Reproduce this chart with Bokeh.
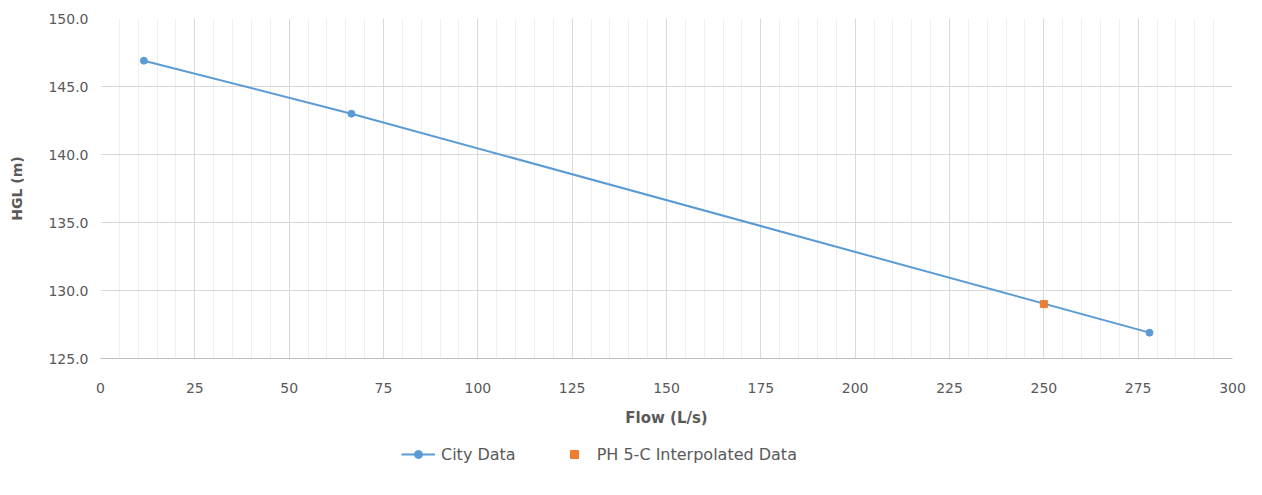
from bokeh.plotting import figure
from bokeh.layouts import column
from bokeh.models import (Range1d, SingleIntervalTicker, NumeralTickFormatter,
                          Legend, LegendItem)
from bokeh.embed import file_html
from bokeh.resources import INLINE

# Hydraulic grade line vs. flow
city_flow = [11.5, 66.5, 278.0]
city_hgl = [146.9, 143.0, 126.9]
interp_flow = [250.0]
interp_hgl = [129.0]

series_names = ["City Data", "PH 5-C Interpolated Data"]

BLUE = "#5B9BD5"
ORANGE = "#ED7D31"
TEXT = "#595959"
FONT = "DejaVu Sans"

p = figure(width=1262, height=435, output_backend="svg", toolbar_location=None,
           x_range=Range1d(0, 300), y_range=Range1d(125, 150),
           min_border_left=100, min_border_right=30,
           min_border_top=18, min_border_bottom=77)
p.outline_line_color = None
p.background_fill_color = "white"
p.border_fill_color = "white"

# axes
p.xaxis.ticker = SingleIntervalTicker(interval=25, num_minor_ticks=5)
p.yaxis.ticker = SingleIntervalTicker(interval=5, num_minor_ticks=0)
p.yaxis.formatter = NumeralTickFormatter(format="0.0")
for ax in (p.xaxis, p.yaxis):
    ax.major_tick_line_color = None
    ax.minor_tick_line_color = None
    ax.major_tick_out = 0
    ax.minor_tick_out = 0
    ax.major_label_text_font = FONT
    ax.major_label_text_font_size = "14px"
    ax.major_label_text_color = TEXT
    ax.axis_label_text_font = FONT
    ax.axis_label_text_color = TEXT
    ax.axis_label_text_font_style = "bold"
p.xaxis.axis_line_color = "#BFBFBF"
p.yaxis.axis_line_color = None
p.xaxis.axis_label = "Flow (L/s)"
p.yaxis.axis_label = "HGL (m)"
p.xaxis.axis_label_text_font_size = "15px"
p.yaxis.axis_label_text_font_size = "14px"
p.xaxis.major_label_standoff = 24
p.xaxis.axis_label_standoff = 13
p.yaxis.major_label_standoff = 12
p.yaxis.axis_label_standoff = 20

# grid
p.xgrid.grid_line_color = "#D9D9D9"
p.xgrid.minor_grid_line_color = "#EFEFEF"
p.ygrid.grid_line_color = "#D9D9D9"

# series
p.line(city_flow, city_hgl, line_color=BLUE, line_width=2)
p.scatter(city_flow, city_hgl, marker="circle", size=7,
          fill_color=BLUE, line_color=BLUE)
p.scatter(interp_flow, interp_hgl, marker="square", size=7,
          fill_color=ORANGE, line_color=ORANGE)

# legend strip under the chart; its glyphs are drawn off-range so only the
# legend itself is visible (the strip's frame is aligned with the chart's)
lg = figure(width=1262, height=60, output_backend="svg", toolbar_location=None,
            x_axis_type=None, y_axis_type=None, min_border=0,
            x_range=Range1d(-20, -10), y_range=Range1d(0, 1))
lg.outline_line_color = None
lg.grid.visible = False
lg_line = lg.line(city_flow, city_hgl, line_color=BLUE, line_width=2)
lg_pts = lg.scatter(city_flow, city_hgl, marker="circle", size=7,
                    fill_color=BLUE, line_color=BLUE)
lg_int = lg.scatter(interp_flow, interp_hgl, marker="square", size=7,
                    fill_color=ORANGE, line_color=ORANGE)

legend = Legend(items=[
    LegendItem(label=series_names[0], renderers=[lg_line, lg_pts]),
    LegendItem(label=series_names[1], renderers=[lg_int]),
], orientation="horizontal", location=(301, 31))
legend.label_text_font = FONT
legend.label_text_font_size = "16px"
legend.label_text_color = TEXT
legend.border_line_color = None
legend.background_fill_alpha = 0
legend.glyph_width = 34
legend.glyph_height = 20
legend.label_standoff = 6
legend.spacing = 41
legend.margin = 0
legend.padding = 4
lg.add_layout(legend, "center")

layout = column(p, lg, spacing=0)
open("out.html", "w").write(file_html(layout, INLINE))
